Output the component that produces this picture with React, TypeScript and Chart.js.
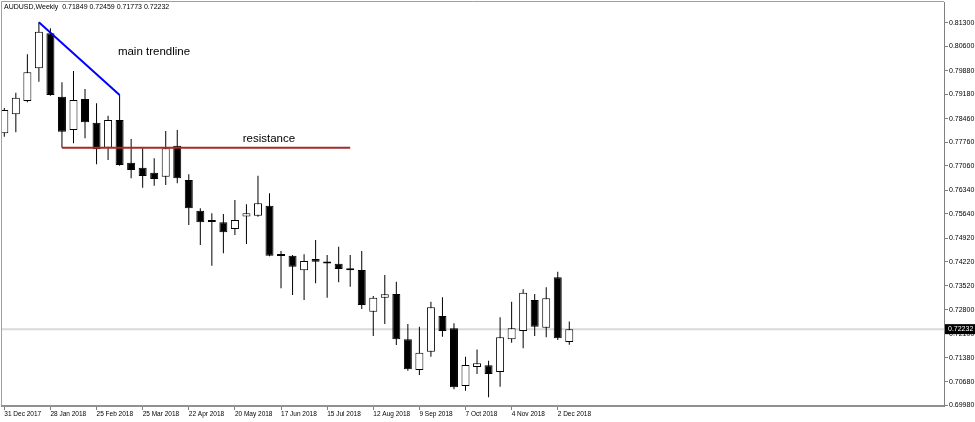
import React, { useEffect, useRef } from "react";
import { Chart, registerables } from "chart.js";

Chart.register(...registerables);

// ---- data (AUDUSD weekly, index 0 = week of 31 Dec 2017) ----
const opens = [
  0.78027, 0.78590, 0.78983, 0.79951, 0.80986, 0.79110, 0.78125, 0.79042, 0.78341, 0.77601,
  0.78421, 0.77157, 0.77009, 0.76861, 0.76743, 0.77660, 0.76646, 0.75737, 0.75415, 0.75394,
  0.75196, 0.75565, 0.75589, 0.75885, 0.74410, 0.74406, 0.73973, 0.74308, 0.74185, 0.74169,
  0.73987, 0.73982, 0.72748, 0.73163, 0.73272, 0.71932, 0.71023, 0.71565, 0.72621, 0.72257,
  0.70550, 0.71112, 0.71162, 0.70964, 0.71932, 0.72177, 0.73095, 0.72275, 0.73766, 0.71849,
];
const highs = [
  0.78776, 0.79229, 0.80365, 0.81312, 0.81134, 0.79536, 0.79871, 0.79338, 0.78915, 0.78548,
  0.79161, 0.77859, 0.77583, 0.77288, 0.78095, 0.78125, 0.76814, 0.75808, 0.75660, 0.75640,
  0.76054, 0.75926, 0.76773, 0.76252, 0.74545, 0.74427, 0.74447, 0.74870, 0.74427, 0.74672,
  0.74427, 0.74545, 0.73213, 0.73834, 0.73636, 0.72385, 0.72305, 0.73044, 0.73175, 0.72405,
  0.71417, 0.71630, 0.71299, 0.72583, 0.73044, 0.73411, 0.73272, 0.73470, 0.73932, 0.72459,
];
const lows = [
  0.77927, 0.78057, 0.78945, 0.79554, 0.79140, 0.77601, 0.77731, 0.77879, 0.77110, 0.77237,
  0.77069, 0.76696, 0.76418, 0.76477, 0.76498, 0.76548, 0.75314, 0.74722, 0.74110, 0.74476,
  0.75018, 0.74752, 0.75560, 0.74390, 0.73441, 0.73243, 0.73095, 0.73589, 0.73163, 0.73618,
  0.73488, 0.72828, 0.72029, 0.72385, 0.71763, 0.71003, 0.70875, 0.71417, 0.72009, 0.70452,
  0.70411, 0.70905, 0.70216, 0.70529, 0.71831, 0.71666, 0.72029, 0.71991, 0.71911, 0.71773,
];
const closes = [
  0.78717, 0.79081, 0.79832, 0.81034, 0.79161, 0.78075, 0.79013, 0.78353, 0.77554, 0.78421,
  0.77089, 0.76941, 0.76764, 0.76675, 0.77583, 0.76696, 0.75808, 0.75394, 0.75405, 0.75098,
  0.75462, 0.75660, 0.75956, 0.74406, 0.74400, 0.74080, 0.74249, 0.74228, 0.74175, 0.74012,
  0.73977, 0.72947, 0.73163, 0.73263, 0.71932, 0.71044, 0.71535, 0.72879, 0.72177, 0.70511,
  0.71171, 0.71222, 0.70905, 0.71991, 0.72257, 0.73311, 0.72305, 0.73145, 0.71961, 0.72232,
];

const dateTickIndex = [0, 4, 8, 12, 16, 20, 24, 28, 32, 36, 40, 44, 48];
const dateLabels = [
  "31 Dec 2017", "28 Jan 2018", "25 Feb 2018", "25 Mar 2018", "22 Apr 2018", "20 May 2018",
  "17 Jun 2018", "15 Jul 2018", "12 Aug 2018", "9 Sep 2018", "7 Oct 2018", "4 Nov 2018", "2 Dec 2018",
];
const priceTicks = [
  0.81300, 0.80600, 0.79880, 0.79180, 0.78460, 0.77760, 0.77060, 0.76340, 0.75640,
  0.74920, 0.74220, 0.73520, 0.72800, 0.72100, 0.71380, 0.70680, 0.69980,
];

const trendX = [3, 10];
const trendY = [0.81312, 0.79161];
const resistanceX = [5, 30];
const resistanceY = [0.7760, 0.7760];
const lastPrice = 0.72232;
const headerText = "AUDUSD,Weekly  0.71849 0.72459 0.71773 0.72232";
const notes = [
  { text: "main trendline", x: 9.85, y: 0.80442 },
  { text: "resistance", x: 20.68, y: 0.7785 },
];

const SANS = "'Liberation Sans', Arial, sans-serif";

export default function App() {
  const ref = useRef<HTMLCanvasElement>(null);

  useEffect(() => {
    if (!ref.current) return;
    const idx = opens.map((_, i) => i);
    const bodyData = idx.map((i) => ({ x: i, y: [opens[i], closes[i]] }));
    const wickData = idx.map((i) => ({ x: i, y: [lows[i], highs[i]] }));
    const bodyFill = idx.map((i) => (closes[i] >= opens[i] ? "#ffffff" : "#000000"));

    const overlay = {
      id: "overlay",
      beforeDatasetsDraw(chart: any) {
        const { ctx, chartArea } = chart;
        ctx.save();
        ctx.strokeStyle = "#a0a0a0";
        ctx.lineWidth = 1;
        ctx.beginPath();
        ctx.moveTo(chartArea.left - 0.5, chartArea.bottom);
        ctx.lineTo(chartArea.left - 0.5, chartArea.top - 0.5);
        ctx.lineTo(chartArea.right, chartArea.top - 0.5);
        ctx.stroke();
        ctx.restore();
      },
      afterDraw(chart: any) {
        const { ctx, chartArea, scales } = chart;
        ctx.save();
        ctx.fillStyle = "#000000";
        ctx.font = `7px ${SANS}`;
        ctx.textBaseline = "middle";
        ctx.textAlign = "left";
        ctx.fillText(headerText, 4, 7);
        ctx.font = `11.5px ${SANS}`;
        notes.forEach((n) => {
          ctx.fillText(n.text, scales.x.getPixelForValue(n.x), scales.y.getPixelForValue(n.y));
        });
        const py = scales.y.getPixelForValue(lastPrice);
        ctx.fillStyle = "#000000";
        ctx.fillRect(chartArea.right + 1, py - 5, 975 - chartArea.right - 1, 10);
        ctx.fillStyle = "#ffffff";
        ctx.font = `7px ${SANS}`;
        ctx.fillText(lastPrice.toFixed(5), chartArea.right + 4, py);
        ctx.restore();
      },
    };

    const chart = new Chart(ref.current, {
      type: "bar",
      data: {
        datasets: [
          {
            type: "line",
            data: [
              { x: -5, y: lastPrice },
              { x: 100, y: lastPrice },
            ],
            borderColor: "#d9d9d9",
            borderWidth: 2,
            pointRadius: 0,
            order: 5,
            clip: 0,
          } as any,
          {
            type: "bar",
            data: wickData,
            backgroundColor: "#000000",
            borderWidth: 0,
            grouped: false,
            barPercentage: 1,
            maxBarThickness: 1,
            order: 4,
          } as any,
          {
            type: "bar",
            data: bodyData,
            backgroundColor: bodyFill,
            borderColor: "#000000",
            borderWidth: 1,
            borderSkipped: false,
            grouped: false,
            barPercentage: 1,
            maxBarThickness: 8,
            minBarLength: 2,
            order: 3,
          } as any,
          {
            type: "line",
            data: trendX.map((x, i) => ({ x, y: trendY[i] })),
            borderColor: "#0000ff",
            borderWidth: 2,
            pointRadius: 0,
            order: 1,
          } as any,
          {
            type: "line",
            data: resistanceX.map((x, i) => ({ x, y: resistanceY[i] })),
            borderColor: "#a52a2a",
            borderWidth: 2,
            pointRadius: 0,
            order: 2,
          } as any,
        ],
      },
      options: {
        animation: false,
        responsive: false,
        maintainAspectRatio: false,
        events: [],
        layout: { padding: { left: 2, top: 2, right: 0, bottom: 0 } },
        plugins: { legend: { display: false }, tooltip: { enabled: false } },
        scales: {
          x: {
            type: "linear",
            min: -0.2,
            max: 81.5,
            offset: false,
            afterBuildTicks: (s: any) => {
              s.ticks = dateTickIndex.map((v) => ({ value: v }));
            },
            afterFit: (s: any) => {
              s.height = 16;
              s.paddingLeft = 0;
              s.paddingRight = 0;
            },
            ticks: {
              autoSkip: false,
              maxRotation: 0,
              minRotation: 0,
              align: "start",
              padding: 0,
              color: "#000000",
              font: { size: 6.5, family: SANS },
              callback: (v: any) => {
                const k = dateTickIndex.indexOf(Number(v));
                return k >= 0 ? dateLabels[k] : "";
              },
            },
            grid: {
              offset: false,
              drawOnChartArea: false,
              drawTicks: true,
              tickLength: 4,
              color: "#808080",
            },
            border: { display: true, color: "#909090", width: 2 },
          },
          y: {
            type: "linear",
            position: "right",
            min: 0.69958,
            max: 0.81913,
            afterBuildTicks: (s: any) => {
              s.ticks = priceTicks.map((v) => ({ value: v }));
            },
            afterFit: (s: any) => {
              s.width = 31;
              s.paddingTop = 0;
              s.paddingBottom = 0;
            },
            ticks: {
              padding: 1,
              color: "#000000",
              font: { size: 7, family: SANS },
              callback: (v: any) => Number(v).toFixed(5),
            },
            grid: {
              drawOnChartArea: false,
              drawTicks: true,
              tickLength: 4,
              color: "#808080",
            },
            border: { display: true, color: "#808080", width: 1 },
          },
        },
      } as any,
      plugins: [overlay],
    });
    return () => chart.destroy();
  }, []);

  return (
    <div style={{ position: "fixed", left: 0, top: 0, width: 975, height: 422, background: "#ffffff" }}>
      <canvas ref={ref} width={975} height={422} style={{ width: 975, height: 422, display: "block" }} />
    </div>
  );
}
